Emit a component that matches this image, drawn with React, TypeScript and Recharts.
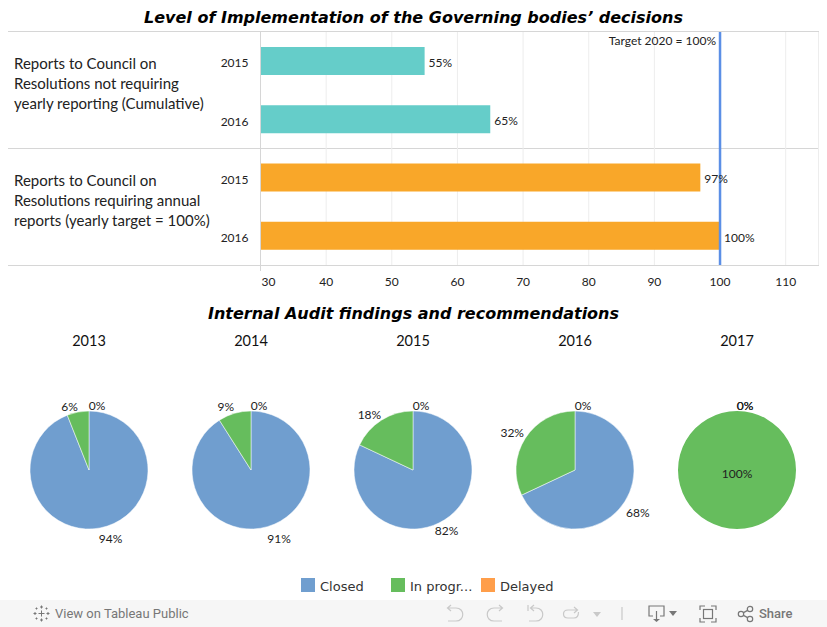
import React from "react";
import {
  BarChart,
  Bar,
  Cell,
  XAxis,
  YAxis,
  CartesianGrid,
  LabelList,
  ReferenceLine,
  PieChart,
  Pie,
} from "recharts";

const barYears = ["2015", "2016", "2015", "2016"];
const barValues = [55, 65, 97, 100];
const xTicks = [30, 40, 50, 60, 70, 80, 90, 100, 110];
const rowLabels = [
  "Reports to Council on\nResolutions not requiring\nyearly reporting (Cumulative)",
  "Reports to Council on\nResolutions requiring annual\nreports (yearly target = 100%)",
];

const pieYears = ["2013", "2014", "2015", "2016", "2017"];
const statuses = ["Closed", "In progr...", "Delayed"];
const closed = [94, 91, 82, 68, 0];
const inProgress = [6, 9, 18, 32, 100];
const delayed = [0, 0, 0, 0, 0];

const TEAL = "#65cdc9";
const ORANGE = "#f9a729";
const TARGET = "#5b8fe6";
const BORDER = "#d6d6d6";
const statusColors = ["#709ecf", "#66bd5d", "#ff9e4a"];
const barColors = [TEAL, TEAL, ORANGE, ORANGE];

const LABEL_FONT = "Lato, sans-serif";
const TITLE_FONT = "'DejaVu Sans', sans-serif";

const barData = barYears.map((year, i) => ({ year, value: barValues[i] }));

const pieCenters = [89, 251, 413, 575, 737];
const PIE_CY = 170;
const PIE_R = 59;

// hand nudges so the outside labels land where Tableau put them
const labelNudges: Record<string, number[][]> = {
  "2013": [[8, -2], [-6, 7], [8, 7]],
  "2014": [[8, -1], [-5, 6], [8, 7]],
  "2015": [[-5, 0], [-5, 5], [8, 7]],
  "2016": [[2, 4], [-2, 1], [8, 7]],
  "2017": [[8, 7], [0, 0], [8, 7]],
};

function renderPieLabel(year: string) {
  return (props: any) => {
    const { cx, cy, midAngle, value, index } = props;
    let x = cx;
    let y = cy + 3;
    if (value < 100) {
      const rad = (midAngle * Math.PI) / 180;
      const [dx, dy] = labelNudges[year][index];
      x = cx + 72 * Math.cos(rad) + dx;
      y = cy - 72 * Math.sin(rad) + dy;
    }
    return (
      <text
        x={x}
        y={y}
        textAnchor="middle"
        dominantBaseline="central"
        fontFamily={LABEL_FONT}
        fontSize={12}
        fill="#222"
      >
        {value}%
      </text>
    );
  };
}

function XTick(props: any) {
  const { x, y, payload } = props;
  const shift = payload.value === 30 ? 8 : 0;
  return (
    <text
      x={x + shift}
      y={y + 13}
      textAnchor="middle"
      fontFamily={LABEL_FONT}
      fontSize={12}
      fill="#222"
    >
      {payload.value}
    </text>
  );
}

function hLine(top: number) {
  return (
    <div
      key={top}
      style={{ position: "absolute", left: 8, top, width: 810, height: 1, background: BORDER }}
    />
  );
}

function Toolbar() {
  const c = "#c9c9c9";
  const d = "#777";
  return (
    <div
      style={{ position: "absolute", left: 0, top: 600, width: 827, height: 27, background: "#f6f6f6" }}
    >
      <svg width={827} height={27} style={{ position: "absolute", left: 0, top: 0 }}>
        <g stroke={d} strokeWidth={1} fill="none" transform="translate(41.5 13.5)">
          <path d="M-3 0H3M0 -3V3M-1.5 -6.5H1.5M0 -8V-5M-1.5 6.5H1.5M0 5V8M-8 0H-5M-6.5 -1.5V1.5M5 0H8M6.5 -1.5V1.5" />
          <path d="M-6 -5H-4M-5 -6V-4M4 -5H6M5 -6V-4M-6 5H-4M-5 4V6M4 5H6M5 4V6" />
        </g>
        <g stroke={c} strokeWidth={1.2} fill="none">
          <path d="M451 5L447.5 8L451 11M447.5 8H456C465 8 465 21 456 21H448" />
          <path d="M499 5L502.5 8L499 11M502.5 8H494C485 8 485 21 494 21H502" />
          <path d="M528 5V11M534 5L530.5 8L534 11M530.5 8H536C545 8 545 21 536 21H529" />
          <path d="M574 7L577.5 10L574 13M577.5 10H568C562 10 562 18 568 18H574C578 18 578.5 15 578.5 12" />
          <path d="M622 7V20" />
        </g>
        <path d="M593 12H601L597 17Z" fill={c} />
        <g stroke={d} strokeWidth={1.2} fill="none">
          <path d="M653 16H649V6H664V16H660M656.5 11V20" />
          <path d="M700 10V6H705M711 6H716V10M716 18V22H711M705 22H700V18" />
          <rect x={703.5} y={9.5} width={9} height={9} />
          <circle cx={741} cy={14} r={2.7} />
          <circle cx={750} cy={9} r={2.7} />
          <circle cx={750} cy={19} r={2.7} />
          <path d="M743.5 12.6L747.6 10.4M743.5 15.4L747.6 17.6" />
        </g>
        <path d="M653 19H660L656.5 22Z" fill={d} />
        <path d="M669 11H677L673 16Z" fill={d} />
      </svg>
      <div
        style={{
          position: "absolute",
          left: 55,
          top: 6,
          fontFamily: "Roboto, sans-serif",
          fontSize: 13,
          color: "#777",
          whiteSpace: "nowrap",
        }}
      >
        View on Tableau Public
      </div>
      <div
        style={{
          position: "absolute",
          left: 759,
          top: 6,
          fontFamily: "Roboto, sans-serif",
          fontSize: 13,
          fontWeight: 500,
          color: "#777",
        }}
      >
        Share
      </div>
    </div>
  );
}

export default function App() {
  const titleStyle: React.CSSProperties = {
    position: "absolute",
    left: 0,
    width: 827,
    textAlign: "center",
    fontFamily: TITLE_FONT,
    fontWeight: "bold",
    fontStyle: "oblique",
    fontSize: 16,
    color: "#000",
    whiteSpace: "nowrap",
  };

  return (
    <div
      style={{
        position: "absolute",
        left: 0,
        top: 0,
        width: 827,
        height: 627,
        background: "#fff",
        overflow: "hidden",
      }}
    >
      <div style={{ ...titleStyle, top: 8 }}>Level of Implementation of the Governing bodies’ decisions</div>
      <div style={{ ...titleStyle, top: 304 }}>Internal Audit findings and recommendations</div>

      {[31, 148, 265].map(hLine)}
      <div style={{ position: "absolute", left: 818, top: 31, width: 1, height: 235, background: BORDER }} />
      <div style={{ position: "absolute", left: 260, top: 265, width: 1, height: 6, background: BORDER }} />

      {rowLabels.map((text, i) => (
        <div
          key={i}
          style={{
            position: "absolute",
            left: 14,
            top: 53 + i * 117,
            fontFamily: LABEL_FONT,
            fontSize: 15,
            lineHeight: "20px",
            color: "#222",
            whiteSpace: "pre-line",
          }}
        >
          {text}
        </div>
      ))}

      <div style={{ position: "absolute", left: 0, top: 0 }}>
        <BarChart
          width={827}
          height={300}
          data={barData}
          layout="vertical"
          barSize={28}
          margin={{ top: 32, right: 8.5, bottom: 0, left: 200.5 }}
        >
          <CartesianGrid horizontal={false} stroke="#ededed" />
          <XAxis
            type="number"
            domain={[30, 115]}
            ticks={xTicks}
            height={35}
            axisLine={false}
            tickLine={false}
            tick={<XTick />}
          />
          <YAxis
            type="category"
            dataKey="year"
            width={60}
            axisLine={{ stroke: BORDER }}
            tickLine={false}
            tickMargin={6}
            tick={{ fontFamily: LABEL_FONT, fontSize: 12, fill: "#222", dy: 2 }}
          />
          <Bar dataKey="value" isAnimationActive={false}>
            {barData.map((_, i) => (
              <Cell key={i} fill={barColors[i]} />
            ))}
            <LabelList
              dataKey="value"
              position="right"
              offset={4}
              dy={1.5}
              formatter={(v: any) => `${v}%`}
              style={{ fontFamily: LABEL_FONT, fontSize: 12, fill: "#222" }}
            />
          </Bar>
          <ReferenceLine
            x={100}
            stroke={TARGET}
            strokeWidth={2.5}
            label={{
              value: "Target 2020 = 100%",
              position: "insideTopRight",
              offset: 4,
              fontFamily: LABEL_FONT,
              fontSize: 12,
              fill: "#222",
            }}
          />
        </BarChart>
      </div>

      {pieYears.map((year, i) => (
        <div
          key={year}
          style={{
            position: "absolute",
            left: pieCenters[i] - 40,
            width: 80,
            top: 332,
            textAlign: "center",
            fontFamily: LABEL_FONT,
            fontSize: 14.5,
            color: "#111",
          }}
        >
          {year}
        </div>
      ))}

      <div style={{ position: "absolute", left: 0, top: 300 }}>
        <PieChart width={827} height={300} margin={{ top: 0, right: 0, bottom: 0, left: 0 }}>
          {pieYears.map((year, i) => {
            const values = [closed[i], inProgress[i], delayed[i]];
            return (
              <Pie
                key={year}
                data={statuses.map((name, j) => ({ name, value: values[j] }))}
                dataKey="value"
                cx={pieCenters[i]}
                cy={PIE_CY}
                outerRadius={PIE_R}
                startAngle={90}
                endAngle={-270}
                labelLine={false}
                label={renderPieLabel(year)}
                isAnimationActive={false}
              >
                {statuses.map((s, j) => (
                  <Cell
                    key={s}
                    fill={statusColors[j]}
                    stroke={values[j] === 0 || values[j] === 100 ? "none" : "#fff"}
                    strokeWidth={0.5}
                  />
                ))}
              </Pie>
            );
          })}
        </PieChart>
      </div>

      {statuses.map((s, i) => (
        <React.Fragment key={s}>
          <div
            style={{
              position: "absolute",
              left: 301 + i * 90,
              top: 578,
              width: 14,
              height: 14,
              background: statusColors[i],
            }}
          />
          <div
            style={{
              position: "absolute",
              left: 320 + i * 90,
              top: 579,
              fontFamily: TITLE_FONT,
              fontSize: 13,
              color: "#333",
              whiteSpace: "nowrap",
            }}
          >
            {s}
          </div>
        </React.Fragment>
      ))}

      <Toolbar />
    </div>
  );
}
